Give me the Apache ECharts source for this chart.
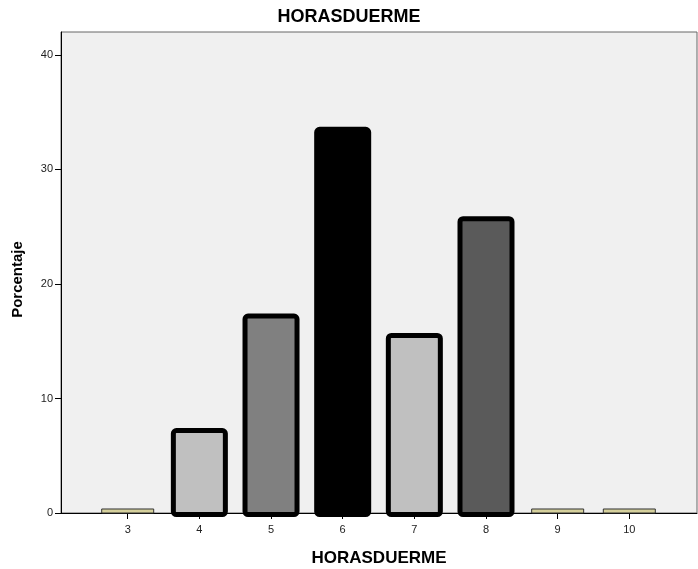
<!DOCTYPE html>
<html>
<head>
<meta charset="utf-8">
<script src="https://cdn.jsdelivr.net/npm/echarts@6/dist/echarts.min.js"></script>
<style>html,body{margin:0;padding:0;background:#fff}#c{width:698px;height:569px}</style>
</head>
<body>
<div id="c"></div>
<script>
var categories = ['3', '4', '5', '6', '7', '8', '9', '10'];
var percentages = [0.35, 7.2, 17.2, 33.5, 15.5, 25.7, 0.35, 0.35];
var yTicks = [0, 10, 20, 30, 40];

var fills = ['#d5d09c', '#c0c0c0', '#808080', '#000000', '#c0c0c0', '#5a5a5a', '#d5d09c', '#d5d09c'];
var FONT = '"Liberation Sans", Arial, sans-serif';

var chart = echarts.init(document.getElementById('c'), null, {renderer: 'canvas'});
var plotLeft = 61, plotTop = 32, plotW = 636, plotH = 481;
var band = 71.66;
var barGridLeft = 127.7 - band / 2;
var BAR_W = 52;

function renderBar(params, api) {
  var idx = api.value(0);
  var val = api.value(1);
  var top = api.coord([idx, val]);
  var base = api.coord([idx, 0]);
  var small = val < 1;
  var lw = small ? 1 : 5;
  return {
    type: 'rect',
    shape: {x: top[0] - BAR_W / 2, y: top[1], width: BAR_W, height: base[1] - top[1] + (small ? 0 : 1.5), r: small ? 0 : 3},
    style: {fill: fills[idx], stroke: small ? '#333' : '#000', lineWidth: lw}
  };
}

chart.setOption({
  animation: false,
  backgroundColor: '#ffffff',
  title: {
    text: 'HORASDUERME', left: 'center', top: 3,
    textStyle: {fontFamily: FONT, fontSize: 18, fontWeight: 'bold', color: '#000'}
  },
  grid: [
    {left: plotLeft, top: plotTop, width: plotW, height: plotH, show: true,
     backgroundColor: '#f0f0f0', borderColor: '#666', borderWidth: 1,
     outerBoundsMode: 'none', containLabel: false},
    {left: barGridLeft, top: plotTop, width: band * categories.length, height: plotH,
     outerBoundsMode: 'none', containLabel: false}
  ],
  xAxis: [
    {gridIndex: 0, type: 'value', min: 0, max: 1,
     name: 'HORASDUERME', nameLocation: 'middle', nameGap: 37,
     nameTextStyle: {fontFamily: FONT, fontSize: 17, fontWeight: 'bold', color: '#000'},
     axisLine: {show: true, lineStyle: {color: '#000', width: 1}},
     axisTick: {show: false}, axisLabel: {show: false}, splitLine: {show: false}},
    {gridIndex: 1, type: 'category', data: categories,
     axisLine: {show: false},
     axisTick: {show: true, alignWithLabel: true, length: 6, lineStyle: {color: '#000'}},
     axisLabel: {fontFamily: FONT, fontSize: 11, color: '#222', margin: 11},
     splitLine: {show: false}}
  ],
  yAxis: [
    {gridIndex: 0, type: 'value', min: 0, max: 42,
     name: 'Porcentaje', nameLocation: 'middle', nameGap: 36, nameRotate: 90,
     nameTextStyle: {fontFamily: FONT, fontSize: 15, fontWeight: 'bold', color: '#000', padding: [0, 14, 0, 0]},
     axisLine: {show: true, lineStyle: {color: '#000', width: 1}},
     axisTick: {show: true, length: 6, lineStyle: {color: '#000'}, customValues: yTicks},
     axisLabel: {fontFamily: FONT, fontSize: 11, color: '#222', margin: 8, customValues: yTicks},
     splitLine: {show: false}},
    {gridIndex: 1, type: 'value', min: 0, max: 42, show: false, splitLine: {show: false}}
  ],
  series: [{
    type: 'custom', xAxisIndex: 1, yAxisIndex: 1,
    clip: false,
    renderItem: renderBar,
    encode: {x: 0, y: 1},
    data: percentages.map(function (v, i) { return [i, v]; })
  }]
});
</script>
</body>
</html>
